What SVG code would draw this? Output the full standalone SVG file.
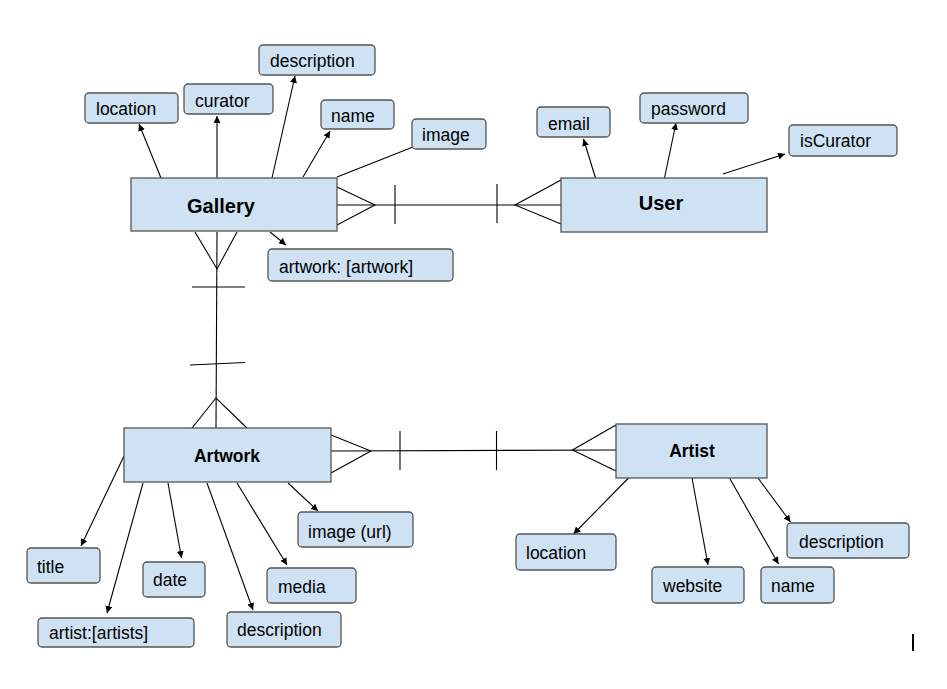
<svg xmlns="http://www.w3.org/2000/svg" width="947" height="689" viewBox="0 0 947 689">
  <style>
    .entity rect { fill: #cfe2f3; stroke: #555; stroke-width: 1.3; }
    .attr rect { fill: #cfe2f3; stroke: #555; stroke-width: 1.3; }
    .entity text { font-family: "Liberation Sans", Arial, sans-serif; font-weight: bold; fill: #000; }
    .attr text { font-family: "Liberation Sans", Arial, sans-serif; font-size: 17.5px; fill: #000; }
    .conn line, .conn polyline { stroke: #000; stroke-width: 1.1; fill: none; }
    .conn .arrow { marker-end: url(#head); }
  </style>
  <defs>
    <marker id="head" markerUnits="userSpaceOnUse" markerWidth="8" markerHeight="7" refX="7" refY="3.5" orient="auto">
      <path d="M0,0 L7,3.5 L0,7 z" fill="#000"/>
    </marker>
  </defs>
  <rect width="947" height="689" fill="#fff"/>

  <!-- connectors -->
  <g id="connectors" class="conn">
    <!-- Gallery attributes -->
    <line class="arrow" x1="161" y1="178" x2="139" y2="124"/>
    <line class="arrow" x1="217" y1="178" x2="217" y2="116"/>
    <line class="arrow" x1="272" y1="178" x2="295" y2="76"/>
    <line class="arrow" x1="303" y1="177" x2="330" y2="131"/>
    <line x1="337" y1="177" x2="413" y2="147"/>
    <line class="arrow" x1="270" y1="232" x2="286" y2="245"/>
    <!-- User attributes -->
    <line class="arrow" x1="595.5" y1="178" x2="583.5" y2="139"/>
    <line class="arrow" x1="664.5" y1="178" x2="676" y2="123"/>
    <line class="arrow" x1="723" y1="174" x2="785" y2="154"/>
    <!-- Artwork attributes -->
    <line class="arrow" x1="124" y1="456" x2="81" y2="546"/>
    <line class="arrow" x1="143" y1="483" x2="107" y2="613"/>
    <line class="arrow" x1="168" y1="483" x2="181.5" y2="558"/>
    <line class="arrow" x1="207" y1="483" x2="253" y2="610"/>
    <line class="arrow" x1="237" y1="483" x2="287" y2="565"/>
    <line class="arrow" x1="288" y1="483" x2="318" y2="511"/>
    <!-- Artist attributes -->
    <line class="arrow" x1="628.5" y1="478" x2="573.5" y2="534"/>
    <line class="arrow" x1="692" y1="478" x2="708" y2="565"/>
    <line class="arrow" x1="729.5" y1="478" x2="778.5" y2="564"/>
    <line class="arrow" x1="758" y1="478" x2="790.5" y2="522"/>

    <!-- Gallery to User -->
    <line x1="337" y1="205" x2="561" y2="205"/>
    <polyline points="337,187 375,205 337,225"/>
    <line x1="395" y1="185" x2="395" y2="224"/>
    <line x1="497" y1="184" x2="497" y2="223"/>
    <polyline points="561,180 515,205 561,224"/>

    <!-- Gallery to Artwork -->
    <line x1="217" y1="232" x2="216" y2="428"/>
    <polyline points="195,232 217,269 237,232"/>
    <line x1="192" y1="287" x2="245" y2="287"/>
    <line x1="190" y1="365" x2="245" y2="362.5"/>
    <polyline points="192,428 216,398 247,428"/>

    <!-- Artwork to Artist -->
    <line x1="331" y1="451" x2="616" y2="450"/>
    <polyline points="331,435 371,451 331,473"/>
    <line x1="400" y1="431" x2="400" y2="470"/>
    <line x1="496.5" y1="431" x2="496.5" y2="470"/>
    <polyline points="616,425 572.5,450 616,471"/>
  </g>

  <!-- entities -->
  <g id="gallery" class="entity">
    <rect x="131" y="178" width="206" height="53"/>
    <text x="187" y="213" font-size="20">Gallery</text>
  </g>
  <g id="user" class="entity">
    <rect x="561" y="178" width="206" height="54"/>
    <text x="661" y="210" font-size="20" text-anchor="middle">User</text>
  </g>
  <g id="artwork" class="entity">
    <rect x="124" y="428" width="207" height="54"/>
    <text x="227" y="461.5" font-size="17.5" text-anchor="middle">Artwork</text>
  </g>
  <g id="artist" class="entity">
    <rect x="616" y="424" width="151" height="54"/>
    <text x="692" y="457" font-size="17.5" text-anchor="middle">Artist</text>
  </g>

  <!-- Gallery attributes -->
  <g id="gallery-location" class="attr"><rect x="85" y="93" width="93" height="30" rx="4"/><text x="96" y="115">location</text></g>
  <g id="gallery-curator" class="attr"><rect x="184" y="84" width="89" height="30" rx="4"/><text x="195" y="107">curator</text></g>
  <g id="gallery-description" class="attr"><rect x="259" y="45" width="116" height="30" rx="4"/><text x="270" y="67">description</text></g>
  <g id="gallery-name" class="attr"><rect x="321" y="100" width="73" height="29" rx="4"/><text x="331" y="122">name</text></g>
  <g id="gallery-image" class="attr"><rect x="412" y="119" width="74" height="30" rx="4"/><text x="422" y="141">image</text></g>
  <g id="gallery-artwork" class="attr"><rect x="268" y="249" width="185" height="32" rx="4"/><text x="279" y="273">artwork: [artwork]</text></g>

  <!-- User attributes -->
  <g id="user-email" class="attr"><rect x="537" y="107" width="73" height="30" rx="4"/><text x="548" y="130">email</text></g>
  <g id="user-password" class="attr"><rect x="640" y="93" width="108" height="30" rx="4"/><text x="651" y="115">password</text></g>
  <g id="user-iscurator" class="attr"><rect x="789" y="125" width="108" height="31" rx="4"/><text x="800" y="147">isCurator</text></g>

  <!-- Artwork attributes -->
  <g id="artwork-title" class="attr"><rect x="27" y="548" width="73" height="35" rx="4"/><text x="37" y="573">title</text></g>
  <g id="artwork-artist" class="attr"><rect x="38" y="618" width="156" height="29" rx="4"/><text x="49" y="639">artist:[artists]</text></g>
  <g id="artwork-date" class="attr"><rect x="143" y="562" width="62" height="35" rx="4"/><text x="153" y="586">date</text></g>
  <g id="artwork-description" class="attr"><rect x="227" y="612" width="114" height="35" rx="4"/><text x="237" y="636">description</text></g>
  <g id="artwork-media" class="attr"><rect x="267" y="568" width="89" height="35" rx="4"/><text x="278" y="593">media</text></g>
  <g id="artwork-image" class="attr"><rect x="298" y="512" width="115" height="35" rx="4"/><text x="308" y="538">image (url)</text></g>

  <!-- Artist attributes -->
  <g id="artist-location" class="attr"><rect x="516" y="534" width="100" height="36" rx="4"/><text x="526" y="559">location</text></g>
  <g id="artist-website" class="attr"><rect x="652" y="567" width="92" height="36" rx="4"/><text x="663" y="592">website</text></g>
  <g id="artist-name" class="attr"><rect x="761" y="567" width="73" height="36" rx="4"/><text x="771" y="592">name</text></g>
  <g id="artist-description" class="attr"><rect x="787" y="523" width="122" height="35" rx="4"/><text x="799" y="548">description</text></g>

  <!-- stray cursor mark -->
  <rect x="912" y="634" width="2" height="17" fill="#000"/>
</svg>
